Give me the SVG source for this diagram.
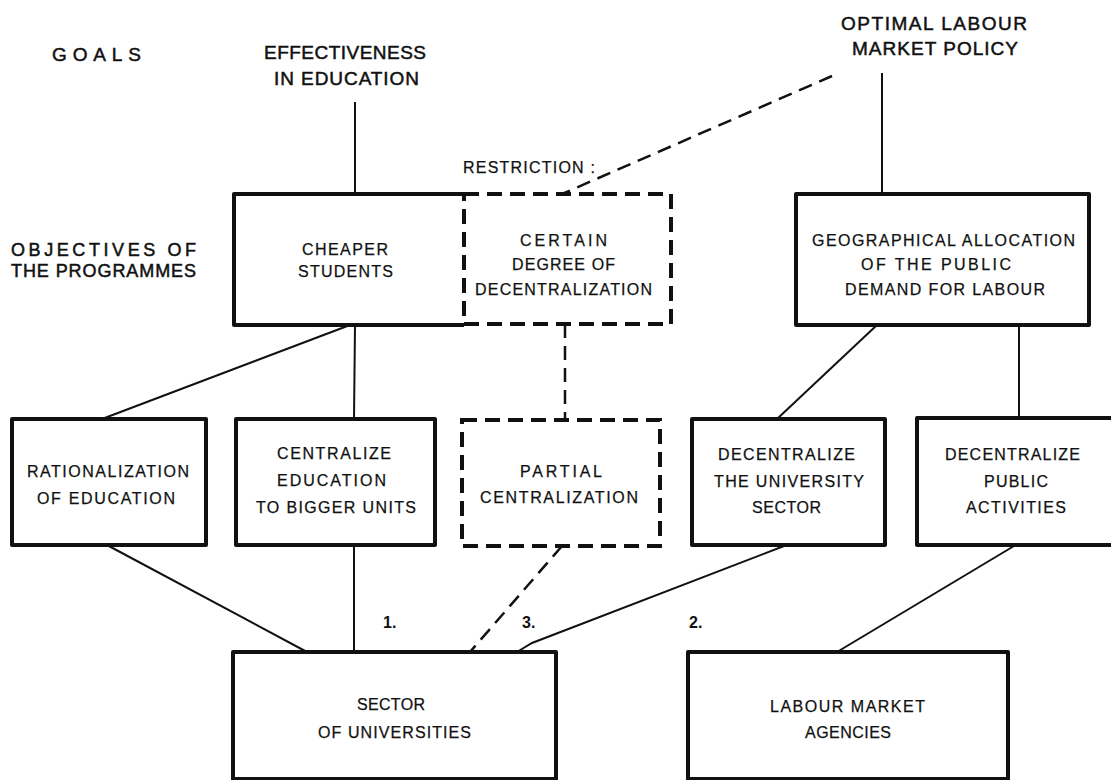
<svg xmlns="http://www.w3.org/2000/svg" width="1111" height="780" viewBox="0 0 1111 780">
  <style>
    .box { fill: none; stroke: #111; stroke-width: 4; stroke-linejoin: round; }
    .dbox { fill: none; stroke: #111; stroke-width: 4; stroke-dasharray: 15 8; }
    .link { fill: none; stroke: #111; stroke-width: 2; }
    .dlink { fill: none; stroke: #111; stroke-width: 2.5; stroke-dasharray: 14 8; }
    text { font-family: "Liberation Sans", Arial, sans-serif; fill: #111; }
    .head { font-size: 19px; stroke: #111; stroke-width: 0.5; }
    .obj { font-size: 18px; stroke: #111; stroke-width: 0.5; }
    .lbl { font-size: 16px; stroke: #111; stroke-width: 0.25; }
    .num { font-size: 16px; font-weight: bold; }
  </style>
  <rect width="1111" height="780" fill="#fff"/>

  <!-- row headings -->
  <g id="heading-goals">
    <text class="head" x="52" y="61" textLength="89" lengthAdjust="spacing">GOALS</text>
  </g>
  <g id="heading-objectives">
    <text class="obj" x="11" y="256" textLength="185" lengthAdjust="spacing">OBJECTIVES OF</text>
    <text class="obj" x="11" y="277" textLength="185" lengthAdjust="spacing">THE PROGRAMMES</text>
  </g>

  <!-- goals -->
  <g id="goal-effectiveness">
    <text class="head" x="264" y="59" textLength="162" lengthAdjust="spacing">EFFECTIVENESS</text>
    <text class="head" x="274" y="85" textLength="145" lengthAdjust="spacing">IN EDUCATION</text>
  </g>
  <g id="goal-labour-policy">
    <text class="head" x="841" y="30" textLength="186" lengthAdjust="spacing">OPTIMAL LABOUR</text>
    <text class="head" x="852" y="55" textLength="166" lengthAdjust="spacing">MARKET POLICY</text>
  </g>

  <!-- objectives of the programmes -->
  <g id="obj-cheaper">
    <path class="box" d="M464 194 H234 V325 H464"/>
    <text class="lbl" x="302" y="255" textLength="86" lengthAdjust="spacing">CHEAPER</text>
    <text class="lbl" x="298" y="277" textLength="95" lengthAdjust="spacing">STUDENTS</text>
  </g>
  <g id="obj-restriction">
    <text class="lbl" x="463" y="173" textLength="132" lengthAdjust="spacing">RESTRICTION :</text>
    <rect class="dbox" x="464" y="194" width="207" height="130"/>
    <text class="lbl" x="520" y="246" textLength="87" lengthAdjust="spacing">CERTAIN</text>
    <text class="lbl" x="512" y="270" textLength="103" lengthAdjust="spacing">DEGREE OF</text>
    <text class="lbl" x="475" y="295" textLength="177" lengthAdjust="spacing">DECENTRALIZATION</text>
  </g>
  <g id="obj-geographical">
    <rect class="box" x="796" y="194" width="293" height="131"/>
    <text class="lbl" x="812" y="246" textLength="263" lengthAdjust="spacing">GEOGRAPHICAL ALLOCATION</text>
    <text class="lbl" x="861" y="270" textLength="150" lengthAdjust="spacing">OF THE PUBLIC</text>
    <text class="lbl" x="845" y="295" textLength="200" lengthAdjust="spacing">DEMAND FOR LABOUR</text>
  </g>

  <!-- programmes -->
  <g id="prog-rationalization">
    <rect class="box" x="12" y="419" width="194" height="126"/>
    <text class="lbl" x="27" y="477" textLength="162" lengthAdjust="spacing">RATIONALIZATION</text>
    <text class="lbl" x="37" y="504" textLength="138" lengthAdjust="spacing">OF EDUCATION</text>
  </g>
  <g id="prog-centralize">
    <rect class="box" x="236" y="419" width="199" height="126"/>
    <text class="lbl" x="277" y="459" textLength="114" lengthAdjust="spacing">CENTRALIZE</text>
    <text class="lbl" x="277" y="486" textLength="109" lengthAdjust="spacing">EDUCATION</text>
    <text class="lbl" x="256" y="513" textLength="160" lengthAdjust="spacing">TO BIGGER UNITS</text>
  </g>
  <g id="prog-partial">
    <rect class="dbox" x="462" y="420" width="198" height="126"/>
    <text class="lbl" x="520" y="477" textLength="82" lengthAdjust="spacing">PARTIAL</text>
    <text class="lbl" x="480" y="503" textLength="158" lengthAdjust="spacing">CENTRALIZATION</text>
  </g>
  <g id="prog-decentralize-university">
    <rect class="box" x="692" y="419" width="193" height="126"/>
    <text class="lbl" x="718" y="460" textLength="137" lengthAdjust="spacing">DECENTRALIZE</text>
    <text class="lbl" x="714" y="487" textLength="150" lengthAdjust="spacing">THE UNIVERSITY</text>
    <text class="lbl" x="752" y="513" textLength="69" lengthAdjust="spacing">SECTOR</text>
  </g>
  <g id="prog-decentralize-public">
    <rect class="box" x="917" y="418" width="198" height="127"/>
    <text class="lbl" x="945" y="460" textLength="135" lengthAdjust="spacing">DECENTRALIZE</text>
    <text class="lbl" x="984" y="487" textLength="64" lengthAdjust="spacing">PUBLIC</text>
    <text class="lbl" x="966" y="513" textLength="100" lengthAdjust="spacing">ACTIVITIES</text>
  </g>

  <!-- implementing bodies -->
  <g id="body-universities">
    <rect class="box" x="233" y="652" width="323" height="127"/>
    <text class="lbl" x="357" y="710" textLength="68" lengthAdjust="spacing">SECTOR</text>
    <text class="lbl" x="318" y="738" textLength="153" lengthAdjust="spacing">OF UNIVERSITIES</text>
  </g>
  <g id="body-labour-agencies">
    <rect class="box" x="688" y="652" width="320" height="127"/>
    <text class="lbl" x="770" y="712" textLength="155" lengthAdjust="spacing">LABOUR MARKET</text>
    <text class="lbl" x="805" y="738" textLength="86" lengthAdjust="spacing">AGENCIES</text>
  </g>

  <!-- connectors -->
  <g id="connectors">
    <line class="link" x1="355" y1="102" x2="355" y2="194"/>
    <line class="link" x1="882" y1="73" x2="882" y2="194"/>
    <line class="dlink" x1="832" y1="76" x2="562" y2="194"/>

    <line class="link" x1="350" y1="325" x2="102" y2="419"/>
    <line class="link" x1="355" y1="325" x2="354" y2="419"/>
    <line class="dlink" x1="565" y1="324" x2="565" y2="420"/>
    <line class="link" x1="877" y1="325" x2="777" y2="419"/>
    <line class="link" x1="1019" y1="325" x2="1019" y2="418"/>

    <line class="link" x1="107" y1="545" x2="307" y2="652"/>
    <line class="link" x1="354" y1="545" x2="354" y2="652"/>
    <line class="dlink" x1="562" y1="546" x2="470" y2="652"/>
    <polyline class="link" points="784,546 532,643 517,652"/>
    <line class="link" x1="1014" y1="546" x2="837" y2="652"/>

    <text class="num" x="383" y="628">1.</text>
    <text class="num" x="522" y="628">3.</text>
    <text class="num" x="689" y="628">2.</text>
  </g>
</svg>
